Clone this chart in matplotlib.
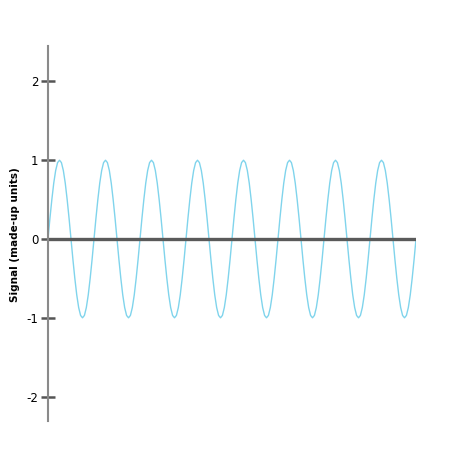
import numpy as np
import matplotlib.pyplot as plt

# one period of the signal, read at 15 degree steps
period_values = [0, 0.26, 0.5, 0.71, 0.87, 0.97, 1.0, 0.97, 0.87, 0.71, 0.5, 0.26,
                 0, -0.26, -0.5, -0.71, -0.87, -0.97, -1.0, -0.97, -0.87, -0.71, -0.5, -0.26]
n_periods = 8
y_ticks = [-2, -1, 0, 1, 2]
y_label = 'Signal (made-up units)'

signal = np.append(np.tile(period_values, n_periods), 0)
x = np.arange(len(signal))

plt.rcParams['axes.unicode_minus'] = False
fig = plt.figure(figsize=(4.5, 4.5), dpi=100)
ax = fig.add_axes([48 / 450, 29 / 450, 368 / 450, 375 / 450])

ax.plot(x, signal, color='#80d4ec', linewidth=1.0)
ax.axhline(0, color='#5a5a5a', linewidth=2.4)

ax.set_xlim(0, len(signal) - 1)
ax.set_ylim(-2.31, 2.45)

for side in ['top', 'right', 'bottom']:
    ax.spines[side].set_visible(False)
ax.spines['left'].set_color('#8a8a8a')
ax.spines['left'].set_linewidth(1.5)

ax.set_xticks([])
ax.set_yticks(y_ticks)
ax.tick_params(axis='y', direction='inout', length=10.5, width=1.8,
               color='#555555', labelsize=8.5, pad=1.5)
ax.set_ylabel(y_label, fontsize=7.5, fontweight='bold')
ax.yaxis.set_label_coords(-28 / 368, 0.496)

fig.savefig('out.png', dpi=100)
